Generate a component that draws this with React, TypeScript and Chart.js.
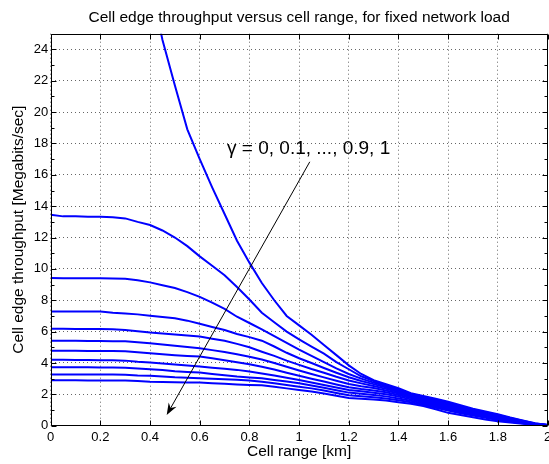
import { useEffect, useRef } from 'react';
import { Chart, registerables, type Plugin } from 'chart.js';

Chart.register(...registerables);

const FONT = '"Liberation Sans", Arial, Helvetica, sans-serif';

// cell range [km], sampled every 0.05
const rangeKm = [
  0, 0.05, 0.1, 0.15, 0.2, 0.25, 0.3, 0.35, 0.4, 0.45, 0.5, 0.55, 0.6, 0.65, 0.7, 0.75, 0.8, 0.85, 0.9, 0.95,
  1, 1.05, 1.1, 1.15, 1.2, 1.25, 1.3, 1.35, 1.4, 1.45, 1.5, 1.55, 1.6, 1.65, 1.7, 1.75, 1.8, 1.85, 1.9, 1.95, 2,
];

// cell edge throughput [Mbit/s], one list per gamma
const gamma00 = [70, 64, 58, 52.5, 47, 42, 37, 32.5, 28.3, 24.6, 21.7, 18.9, 17.0, 15.2, 13.5, 11.8, 10.4, 9.1, 8.0, 7.0, 6.4, 5.8, 5.15, 4.5, 3.85, 3.3, 2.9, 2.65, 2.4, 2.07, 1.9, 1.72, 1.53, 1.3, 1.08, 0.9, 0.73, 0.52, 0.33, 0.15, 0.05];
const gamma01 = [13.45, 13.35, 13.35, 13.33, 13.32, 13.3, 13.22, 13.0, 12.8, 12.45, 12.0, 11.45, 10.8, 10.2, 9.6, 8.85, 8.05, 7.2, 6.6, 6.0, 5.5, 5.05, 4.6, 4.05, 3.6, 3.15, 2.85, 2.6, 2.33, 2.02, 1.84, 1.66, 1.47, 1.26, 1.04, 0.86, 0.68, 0.49, 0.31, 0.14, 0.05];
const gamma02 = [9.42, 9.41, 9.4, 9.4, 9.4, 9.39, 9.37, 9.27, 9.14, 8.96, 8.78, 8.52, 8.22, 7.85, 7.45, 6.95, 6.55, 6.15, 5.72, 5.28, 4.85, 4.45, 4.05, 3.65, 3.3, 3.0, 2.75, 2.52, 2.27, 1.98, 1.78, 1.6, 1.41, 1.21, 1.0, 0.82, 0.64, 0.46, 0.29, 0.13, 0.04];
const gamma03 = [7.29, 7.29, 7.29, 7.29, 7.28, 7.2, 7.15, 7.1, 7.01, 6.93, 6.85, 6.7, 6.5, 6.3, 6.1, 5.85, 5.65, 5.42, 5.05, 4.65, 4.3, 4.0, 3.68, 3.38, 3.09, 2.85, 2.65, 2.44, 2.2, 1.94, 1.73, 1.54, 1.35, 1.16, 0.96, 0.78, 0.6, 0.43, 0.27, 0.12, 0.04];
const gamma04 = [6.18, 6.18, 6.17, 6.17, 6.17, 6.15, 6.1, 6.02, 5.94, 5.88, 5.82, 5.76, 5.69, 5.55, 5.42, 5.22, 5.0, 4.72, 4.45, 4.15, 3.88, 3.62, 3.38, 3.12, 2.88, 2.7, 2.53, 2.35, 2.13, 1.89, 1.68, 1.49, 1.29, 1.1, 0.91, 0.74, 0.56, 0.4, 0.25, 0.11, 0.04];
const gamma05 = [5.41, 5.41, 5.41, 5.4, 5.4, 5.39, 5.38, 5.32, 5.26, 5.18, 5.1, 5.02, 4.94, 4.82, 4.7, 4.55, 4.4, 4.22, 4.0, 3.76, 3.52, 3.3, 3.08, 2.87, 2.66, 2.52, 2.4, 2.25, 2.05, 1.83, 1.62, 1.43, 1.23, 1.05, 0.86, 0.7, 0.52, 0.37, 0.23, 0.1, 0.03];
const gamma06 = [4.78, 4.78, 4.78, 4.77, 4.77, 4.76, 4.75, 4.68, 4.62, 4.56, 4.5, 4.45, 4.41, 4.3, 4.18, 4.05, 3.92, 3.76, 3.58, 3.38, 3.18, 3.0, 2.82, 2.63, 2.45, 2.34, 2.25, 2.13, 1.96, 1.76, 1.56, 1.37, 1.17, 0.99, 0.81, 0.65, 0.48, 0.34, 0.21, 0.09, 0.03];
const gamma07 = [4.2, 4.2, 4.19, 4.19, 4.18, 4.17, 4.15, 4.08, 4.03, 3.97, 3.9, 3.84, 3.77, 3.7, 3.63, 3.56, 3.45, 3.33, 3.2, 3.06, 2.92, 2.76, 2.6, 2.44, 2.28, 2.2, 2.1, 2.0, 1.86, 1.68, 1.49, 1.3, 1.1, 0.93, 0.76, 0.6, 0.44, 0.31, 0.19, 0.08, 0.03];
const gamma08 = [3.73, 3.73, 3.72, 3.72, 3.71, 3.71, 3.7, 3.65, 3.6, 3.55, 3.48, 3.43, 3.39, 3.3, 3.22, 3.14, 3.08, 3.02, 2.92, 2.82, 2.71, 2.57, 2.42, 2.26, 2.11, 2.04, 1.96, 1.87, 1.74, 1.59, 1.41, 1.22, 1.03, 0.87, 0.71, 0.55, 0.4, 0.28, 0.17, 0.07, 0.02];
const gamma09 = [3.27, 3.27, 3.27, 3.26, 3.26, 3.26, 3.25, 3.2, 3.18, 3.14, 3.09, 3.06, 3.03, 2.99, 2.96, 2.93, 2.88, 2.8, 2.7, 2.6, 2.49, 2.38, 2.24, 2.09, 1.94, 1.88, 1.82, 1.74, 1.62, 1.5, 1.33, 1.15, 0.96, 0.8, 0.65, 0.5, 0.36, 0.25, 0.15, 0.06, 0.02];
const gamma10 = [2.9, 2.9, 2.9, 2.89, 2.89, 2.89, 2.88, 2.85, 2.81, 2.79, 2.77, 2.76, 2.75, 2.71, 2.67, 2.63, 2.6, 2.58, 2.48, 2.38, 2.28, 2.18, 2.05, 1.91, 1.77, 1.72, 1.67, 1.6, 1.5, 1.4, 1.25, 1.05, 0.82, 0.68, 0.54, 0.4, 0.28, 0.2, 0.12, 0.05, 0.02];

const gammaLabels = ['0', '0.1', '0.2', '0.3', '0.4', '0.5', '0.6', '0.7', '0.8', '0.9', '1'];
const curves = [gamma00, gamma01, gamma02, gamma03, gamma04, gamma05, gamma06, gamma07, gamma08, gamma09, gamma10];

const titleText = 'Cell edge throughput versus cell range, for fixed network load';
const noteText = 'γ = 0, 0.1, ..., 0.9, 1';
const noteAt = { x: 0.71, y: 17.35 };
const arrowFrom = { x: 1.043, y: 16.83 };
const arrowTo = { x: 0.467, y: 0.68 };

// box round the axes with inward ticks, like a MATLAB figure
const boxPlugin: Plugin<'line'> = {
  id: 'box',
  afterDatasetsDraw(chart) {
    const { ctx, chartArea: a, scales } = chart;
    const xs = scales.x, ys = scales.y;
    const L = Math.round(a.left) + 0.5, R = Math.round(a.right) - 0.5;
    const T = Math.round(a.top) + 0.5, B = Math.round(a.bottom) - 0.5;
    ctx.save();
    ctx.strokeStyle = '#000';
    ctx.lineWidth = 1;
    ctx.beginPath();
    ctx.rect(L, T, R - L, B - T);
    xs.ticks.forEach((t) => {
      const px = Math.round(xs.getPixelForValue(t.value)) + 0.5;
      ctx.moveTo(px, B); ctx.lineTo(px, B - 5);
      ctx.moveTo(px, T); ctx.lineTo(px, T + 5);
    });
    for (let v = 0; v <= 25; v += 1) {
      const py = Math.round(ys.getPixelForValue(v)) + 0.5;
      const len = v % 2 === 0 ? 5 : 3;
      ctx.moveTo(L, py); ctx.lineTo(L + len, py);
      ctx.moveTo(R, py); ctx.lineTo(R - len, py);
    }
    ctx.stroke();
    ctx.restore();
  },
  afterDraw(chart) {
    const { ctx, scales, chartArea: a } = chart;
    const xs = scales.x, ys = scales.y;
    ctx.save();
    ctx.fillStyle = '#000';
    ctx.strokeStyle = '#000';

    // title centred over the axes box
    ctx.font = `15.5px ${FONT}`;
    ctx.textAlign = 'center';
    ctx.textBaseline = 'middle';
    ctx.fillText(titleText, (a.left + a.right) / 2, 18);

    ctx.font = `19px ${FONT}`;
    ctx.textBaseline = 'alphabetic';
    ctx.textAlign = 'left';
    ctx.fillText(noteText, xs.getPixelForValue(noteAt.x), ys.getPixelForValue(noteAt.y));

    const x1 = xs.getPixelForValue(arrowFrom.x), y1 = ys.getPixelForValue(arrowFrom.y);
    const x2 = xs.getPixelForValue(arrowTo.x), y2 = ys.getPixelForValue(arrowTo.y);
    const ang = Math.atan2(y2 - y1, x2 - x1);
    const head = 12, half = 4.5, notch = 8;
    ctx.lineWidth = 1;
    ctx.beginPath();
    ctx.moveTo(x1, y1);
    ctx.lineTo(x2 - notch * Math.cos(ang), y2 - notch * Math.sin(ang));
    ctx.stroke();
    const bx = x2 - head * Math.cos(ang), by = y2 - head * Math.sin(ang);
    ctx.beginPath();
    ctx.moveTo(x2, y2);
    ctx.lineTo(bx + half * Math.sin(ang), by - half * Math.cos(ang));
    ctx.lineTo(x2 - notch * Math.cos(ang), y2 - notch * Math.sin(ang));
    ctx.lineTo(bx - half * Math.sin(ang), by + half * Math.cos(ang));
    ctx.closePath();
    ctx.fill();
    ctx.restore();
  },
};

export default function App() {
  const ref = useRef<HTMLCanvasElement>(null);

  useEffect(() => {
    document.body.style.margin = '0';
    if (!ref.current) return;
    const chart = new Chart(ref.current, {
      type: 'line',
      data: {
        datasets: curves.map((c, i) => ({
          label: `γ = ${gammaLabels[i]}`,
          data: c.map((v, j) => ({ x: rangeKm[j], y: v })),
          borderColor: '#0000ff',
          borderWidth: 2,
          pointRadius: 0,
          tension: 0,
          fill: false,
        })),
      },
      options: {
        animation: false,
        responsive: true,
        maintainAspectRatio: false,
        layout: { padding: { left: 0, right: 1.5, top: 33.7, bottom: 0 } },
        plugins: {
          legend: { display: false },
          tooltip: { enabled: false },
          title: { display: false },
        },
        scales: {
          x: {
            type: 'linear',
            min: 0,
            max: 2,
            afterFit: (s: any) => { s.height = 38.3; s.paddingLeft = 0; s.paddingRight = 0; },
            ticks: {
              stepSize: 0.2,
              autoSkip: false,
              maxRotation: 0,
              padding: 4,
              color: '#000',
              font: { family: FONT, size: 13 },
              callback: (v) => String(Number(Number(v).toFixed(1))),
            },
            grid: { color: 'rgba(0,0,0,0.6)', lineWidth: 1, drawTicks: false },
            border: { display: false, dash: [1, 3] },
            title: {
              display: true,
              text: 'Cell range [km]',
              color: '#000',
              font: { family: FONT, size: 15.5 },
              padding: { top: 0, bottom: 2.7 },
            },
          },
          y: {
            type: 'linear',
            min: 0,
            max: 25,
            afterFit: (s: any) => { s.width = 50.7; s.paddingTop = 0; s.paddingBottom = 0; },
            ticks: {
              stepSize: 2,
              includeBounds: false,
              padding: 2.5,
              color: '#000',
              font: { family: FONT, size: 13 },
            },
            grid: { color: 'rgba(0,0,0,0.6)', lineWidth: 1, drawTicks: false },
            border: { display: false, dash: [1, 3] },
            title: {
              display: true,
              text: 'Cell edge throughput [Megabits/sec]',
              color: '#000',
              font: { family: FONT, size: 15.5 },
              padding: { top: 9.7, bottom: 0 },
            },
          },
        },
      },
      plugins: [boxPlugin],
    });
    return () => chart.destroy();
  }, []);

  return (
    <div style={{ width: 549, height: 464, background: '#fff' }}>
      <canvas ref={ref} />
    </div>
  );
}
